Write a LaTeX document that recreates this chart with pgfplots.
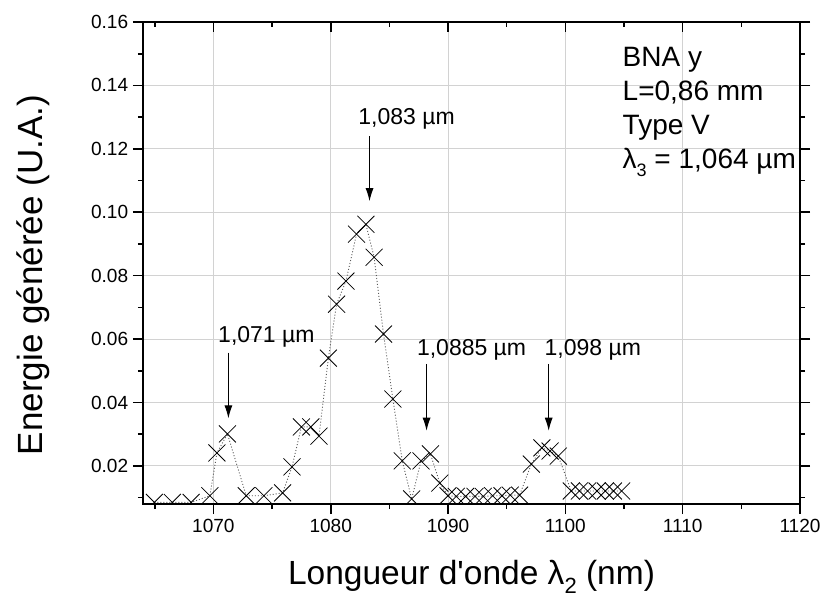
\documentclass[border=0pt]{standalone}
\usepackage{fontspec}
\setmainfont{Liberation Sans}
\usepackage{pgfplots}
\pgfplotsset{compat=1.18}
\usetikzlibrary{arrows.meta}
\pgfplotstableread{
x y
1064.97 0.0085
1066.5 0.0085
1068.1 0.0085
1069.7 0.0106
1070.3 0.0241
1071.2 0.0301
1072.8 0.0106
1074.3 0.0106
1075.9 0.0115
1076.7 0.0197
1077.5 0.0323
1078.3 0.0323
1079.0 0.0294
1079.8 0.0540
1080.5 0.0710
1081.3 0.0783
1082.2 0.0931
1083.0 0.0962
1083.7 0.0858
1084.5 0.0616
1085.3 0.0411
1086.1 0.0216
1086.9 0.0096
1087.7 0.0216
1088.5 0.0238
1089.3 0.0146
1090.0 0.0106
1090.7 0.0104
1091.5 0.0104
1092.3 0.0104
1093.0 0.0104
1093.8 0.0106
1094.6 0.0106
1095.3 0.0108
1096.1 0.0108
1097.1 0.0206
1098.0 0.0257
1098.7 0.0247
1099.4 0.0231
1100.5 0.0121
1101.2 0.0121
1101.9 0.0121
1102.7 0.0121
1103.4 0.0121
1104.1 0.0121
1104.8 0.0121
}\datatable
\pgfplotsset{
  common/.style={
    width=657pt, height=482pt, scale only axis,
    xmin=1064, xmax=1120, ymin=0.008, ymax=0.16,
    xtick={1070,1080,1090,1100,1110,1120},
    ytick={0.02,0.04,0.06,0.08,0.10,0.12,0.14,0.16},
    minor xtick={1065,1075,1085,1095,1105,1115},
    minor ytick={0.01,0.03,0.05,0.07,0.09,0.11,0.13,0.15},
    major tick length=10pt, minor tick length=5pt,
    axis line style={line width=2pt, black},
    every tick/.style={line width=1.6pt, black},
    every minor tick/.style={line width=1.6pt, black},
  }
}
\begin{document}
\begin{tikzpicture}
\begin{axis}[common,
  tick align=outside, xtick pos=bottom, ytick pos=left,
  grid=major, grid style={line width=1pt, gray!35},
  xticklabels={1070,1080,1090,1100,1110,1120},
  yticklabels={0.02,0.04,0.06,0.08,0.10,0.12,0.14,0.16},
  every tick label/.append style={font=\fontsize{18.5}{22}\selectfont, inner sep=4.5pt, scale=1.03},
  clip marker paths=true,
  xlabel={Longueur d\textquotesingle onde λ\raisebox{-0.28em}{\fontsize{22}{22}\selectfont 2} (nm)},
  ylabel={Energie générée (U.A.)},
  xlabel style={font=\fontsize{33.5}{40}\selectfont, at={(axis description cs:0.5,-0.166)}, anchor=base},
  ylabel style={font=\fontsize{35}{42}\selectfont, at={(axis description cs:-0.1674,0.475)}, anchor=center},
]
\addplot[black!65, line width=0.9pt, dash pattern=on 1pt off 2pt,
  mark=x, mark size=12pt, mark options={solid, black, line width=0.8pt}]
  table[x=x, y=y] {\datatable};
% annotations
\begin{scope}[every node/.style={font=\fontsize{23}{27}\selectfont, inner sep=0pt, anchor=base}]
\node at (axis cs:1086.47,0.1277) {1,083 µm};
\node at (axis cs:1074.52,0.0590) {1,071 µm};
\node at (axis cs:1092.01,0.0548) {1,0885 µm};
\node at (axis cs:1102.34,0.0548) {1,098 µm};
\end{scope}
\begin{scope}[line width=1pt, -{Latex[length=13pt,width=8pt]}]
\draw (axis cs:1083.31,0.1239) -- (axis cs:1083.31,0.1035);
\draw (axis cs:1071.28,0.0557) -- (axis cs:1071.28,0.0350);
\draw (axis cs:1088.17,0.0522) -- (axis cs:1088.17,0.0311);
\draw (axis cs:1098.58,0.0522) -- (axis cs:1098.58,0.0311);
\end{scope}
\begin{scope}[every node/.style={font=\fontsize{28}{33}\selectfont, inner sep=0pt, anchor=base west}]
\node at (axis cs:1104.87,0.1459) {BNA y};
\node at (axis cs:1104.87,0.1352) {L=0,86 mm};
\node at (axis cs:1104.87,0.1244) {Type V};
\node at (axis cs:1104.87,0.1137) {λ\raisebox{-0.28em}{\fontsize{18}{18}\selectfont 3} = 1,064 µm};
\end{scope}
\end{axis}
\begin{axis}[common, tick align=inside, xtick pos=top, ytick=\empty, minor ytick={}, xticklabel=\empty]
\end{axis}
\begin{axis}[common, tick align=outside, ytick pos=right, xtick=\empty, minor xtick={}, yticklabel=\empty]
\end{axis}
\pgfresetboundingbox
\path (-143pt,-93pt) rectangle (679pt,504pt);
\end{tikzpicture}
\end{document}
